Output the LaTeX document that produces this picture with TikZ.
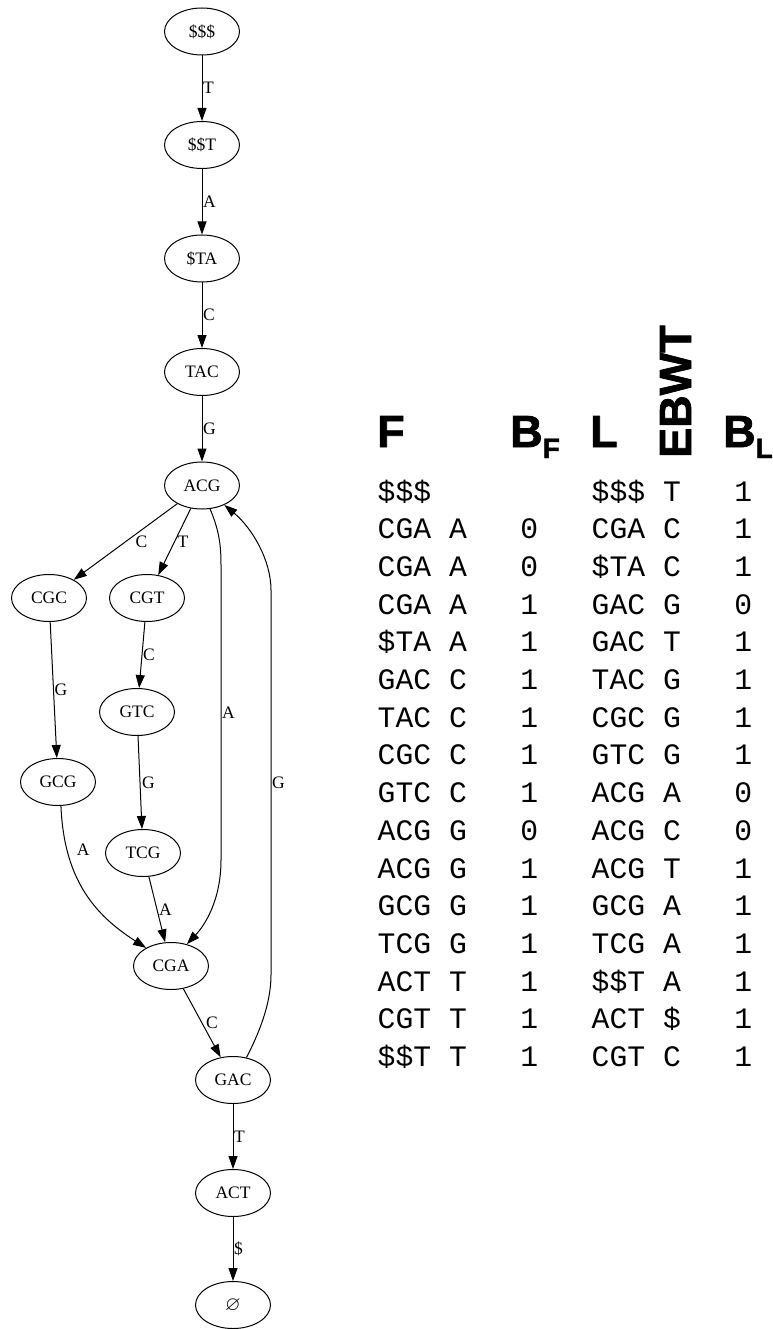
\documentclass[tikz,border=0pt]{standalone}
\usepackage{amssymb}
\usepackage{fontspec}
\setmainfont{Liberation Serif}
\newfontfamily\tablefont{Liberation Mono}
\newfontfamily\headfont{Liberation Sans}[BoldFeatures={FakeBold=1.6}]
\usetikzlibrary{shapes.geometric}
\usetikzlibrary{arrows.meta}

\begin{document}
\begin{tikzpicture}[x=1pt, y=-1pt,
	state/.style={ellipse, draw, line width=1pt, minimum width=75pt, minimum height=47pt, inner sep=0pt, font=\fontsize{17.5}{20}\selectfont},
	edge/.style={-{Triangle[length=13pt,width=9pt]}, line width=1pt},
	lbl/.style={inner sep=0.5pt, font=\fontsize{17.5}{20}\selectfont},
	cell/.style={anchor=base west, inner sep=0pt, font=\tablefont\fontsize{29.7}{30}\selectfont},
	head/.style={anchor=base west, inner sep=0pt, font=\headfont\bfseries\fontsize{45}{45}\selectfont}]
	\useasboundingbox (0,0) rectangle (772,1329);

	%nodes, main chain
	\node[state] (sss) at (202,31.5) {\$\$\$};
	\node[state] (sst) at (202,145) {\$\$T};
	\node[state] (sta) at (202,258.5) {\$TA};
	\node[state] (tac) at (202,372) {TAC};
	\node[state] (acg) at (202,485.5) {ACG};

	%nodes, branches
	\node[state] (cgc) at (49,598) {CGC};
	\node[state] (cgt) at (147,598) {CGT};
	\node[state] (gtc) at (137,712) {GTC};
	\node[state] (gcg) at (58,782) {GCG};
	\node[state] (tcg) at (143,853) {TCG};
	\node[state] (cga) at (171,966) {CGA};
	\node[state] (gac) at (233,1080) {GAC};
	\node[state] (act) at (233,1193) {ACT};
	\node[state] (end) at (233,1305) {\fontsize{20}{20}\selectfont$\varnothing$};

	%edges, straight
	\draw[edge] (sss) -- node[lbl, right] {T} (sst);
	\draw[edge] (sst) -- node[lbl, right] {A} (sta);
	\draw[edge] (sta) -- node[lbl, right] {C} (tac);
	\draw[edge] (tac) -- node[lbl, right] {G} (acg);
	\draw[edge] (acg) -- node[lbl, right=9pt] {C} (cgc);
	\draw[edge] (acg) -- node[lbl, right=2pt] {T} (cgt);
	\draw[edge] (cgc) -- node[lbl, right] {G} (gcg);
	\draw[edge] (cgt) -- node[lbl, right] {C} (gtc);
	\draw[edge] (gtc) -- node[lbl, right=1pt] {G} (tcg);
	\draw[edge] (tcg) -- node[lbl, right=1pt] {A} (cga);
	\draw[edge] (cga) -- node[lbl, right=3pt] {C} (gac);
	\draw[edge] (gac) -- node[lbl, right] {T} (act);
	\draw[edge] (act) -- node[lbl, right] {\$} (end);

	%edges, curved
	\draw[edge] (gcg.-83) .. controls (64,880) and (95,915) .. node[lbl, pos=.22, right=9pt] {A} (cga.144);
	\draw[edge] (acg.-71) .. controls (219,530) and (221,545) .. (221,565)
		-- node[lbl, right] {A} (221,860) .. controls (221,900) and (205,925) .. (cga.54);
	\draw[edge] (gac.59) .. controls (258,1035) and (271,1005) .. (271,975)
		-- node[lbl, right] {G} (271,590) .. controls (271,560) and (252,528) .. (acg.-41);

	%table heads
	\node[head] (hF) at (377,447) {F};
	\node[head] (hBF) at (510,447) {B\raisebox{-11pt}{\fontsize{28}{28}\selectfont F}};
	\node[head] (hL) at (590,447) {L};
	\node[head, rotate=90] (hEBWT) at (691,458) {EBWT};
	\node[head] (hBL) at (723,447) {B\raisebox{-11pt}{\fontsize{28}{28}\selectfont L}};

	%table rows
	\foreach \f/\fc/\fb/\l/\lc/\lb [count=\i from 0] in {
		\$\$\$/{}/{}/\$\$\$/T/1, CGA/A/0/CGA/C/1, CGA/A/0/\$TA/C/1, CGA/A/1/GAC/G/0,
		\$TA/A/1/GAC/T/1, GAC/C/1/TAC/G/1, TAC/C/1/CGC/G/1, CGC/C/1/GTC/G/1,
		GTC/C/1/ACG/A/0, ACG/G/0/ACG/C/0, ACG/G/1/ACG/T/1, GCG/G/1/GCG/A/1,
		TCG/G/1/TCG/A/1, ACT/T/1/\$\$T/A/1, CGT/T/1/ACT/\$/1, \$\$T/T/1/CGT/C/1} {
		\node[cell] (f\i) at (377.5,{501+\i*37.7}) {\f};
		\node[cell] (fc\i) at (448.8,{501+\i*37.7}) {\fc};
		\node[cell] (fb\i) at (520.1,{501+\i*37.7}) {\fb};
		\node[cell] (l\i) at (591.5,{501+\i*37.7}) {\l};
		\node[cell] (lc\i) at (662.8,{501+\i*37.7}) {\lc};
		\node[cell] (lb\i) at (734.1,{501+\i*37.7}) {\lb};
	}
\end{tikzpicture}
\end{document}
